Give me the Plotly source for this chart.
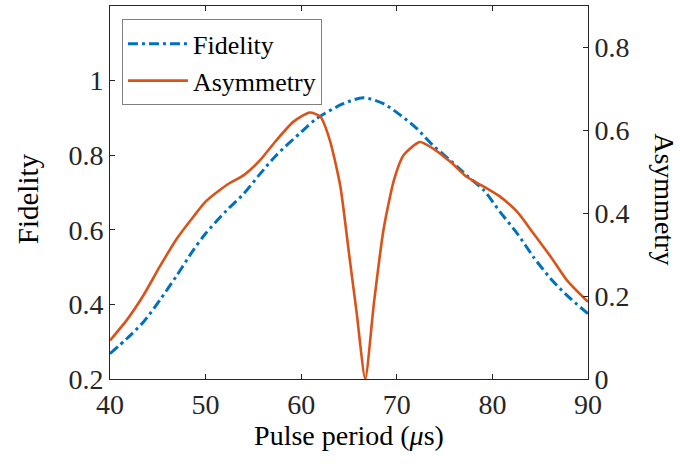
import plotly.graph_objects as go

# Fidelity (left axis)
fid_x = [40, 41.75, 43.5, 45.2, 47, 48.7, 50, 52.2, 54, 55.7, 57.4, 60, 61.6, 64.4,
         66.5, 68.6, 70.4, 72.1, 73.8, 75.6, 77.3, 79.1, 80.8, 82.6, 84.3, 86.1, 87.8, 90]
fid_y = [0.268, 0.308, 0.353, 0.411, 0.478, 0.545, 0.590, 0.652, 0.697, 0.750, 0.800, 0.862, 0.898, 0.938,
         0.954, 0.938, 0.907, 0.871, 0.826, 0.786, 0.746, 0.706, 0.648, 0.590, 0.527, 0.469, 0.424, 0.375]

# Asymmetry (right axis)
asy_x = [40, 41.75, 43.5, 45.2, 47, 48.7, 50, 52.2, 54, 55.7, 57.4, 59.2, 60.9, 62, 63, 64.1, 65,
         65.8, 66.7, 67.6, 68.6, 69.7, 70.7, 72.4, 73.8, 75.6, 77.3, 79.1, 80.8, 82.6, 84.3, 86.1, 87.8, 90]
asy_y = [0.093, 0.142, 0.202, 0.271, 0.339, 0.391, 0.428, 0.468, 0.492, 0.528, 0.576, 0.621, 0.643, 0.633, 0.576, 0.464, 0.303,
         0.160, 0.0, 0.182, 0.359, 0.480, 0.540, 0.572, 0.556, 0.524, 0.488, 0.464, 0.440, 0.403, 0.351, 0.295, 0.238, 0.186]

x_ticks = [40, 50, 60, 70, 80, 90]
left_ticks = [0.2, 0.4, 0.6, 0.8, 1.0]
left_labels = ["0.2", "0.4", "0.6", "0.8", "1"]
right_ticks = [0, 0.2, 0.4, 0.6, 0.8]
right_labels = ["0", "0.2", "0.4", "0.6", "0.8"]

FONT = "Liberation Serif"
fig = go.Figure()
fig.add_trace(go.Scatter(x=fid_x, y=fid_y, name="Fidelity", mode="lines",
                         line=dict(color="#0072BD", width=3, dash="10px,4px,3px,4px", shape="spline", smoothing=0.8)))
fig.add_trace(go.Scatter(x=asy_x, y=asy_y, name="Asymmetry", mode="lines", yaxis="y2",
                         line=dict(color="#D95319", width=2.6, shape="spline", smoothing=0.6)))

axis_common = dict(showline=True, linecolor="#262626", linewidth=1, ticks="inside", ticklen=5,
                   tickcolor="#262626", showgrid=False, zeroline=False, automargin=False,
                   tickfont=dict(family=FONT, size=28, color="#262626"))
fig.update_layout(
    width=680, height=467,
    margin=dict(l=110, r=92, t=6, b=88),
    plot_bgcolor="white", paper_bgcolor="white",
    showlegend=True,
    legend=dict(x=0.025, y=0.964, xanchor="left", yanchor="top", itemwidth=60,
                bgcolor="white", bordercolor="#7f7f7f", borderwidth=1,
                font=dict(family=FONT, size=26, color="#000000")),
    xaxis=dict(range=[40, 90], tickvals=x_ticks, mirror="ticks",
               title=dict(text="Pulse period (<i>μ</i>s)", font=dict(family=FONT, size=28, color="#000"), standoff=6),
               **axis_common),
    yaxis=dict(range=[0.2, 1.2], tickvals=left_ticks, ticktext=left_labels, **axis_common),
    yaxis2=dict(range=[0, 0.9], tickvals=right_ticks, ticktext=right_labels, overlaying="y", side="right",
                **axis_common),
    annotations=[
        dict(text="Fidelity", x=0.0, xref="paper", xanchor="center", xshift=-82,
             y=0.482, yref="paper", yanchor="middle", textangle=-90, showarrow=False,
             font=dict(family=FONT, size=29, color="#000")),
        dict(text="Asymmetry", x=1.0, xref="paper", xanchor="center", xshift=77,
             y=0.482, yref="paper", yanchor="middle", textangle=90, showarrow=False,
             font=dict(family=FONT, size=28, color="#000")),
    ],
)
fig.write_html("out.html", config={"displayModeBar": False},
               post_script="document.body.style.margin='0';document.body.style.padding='0';")
